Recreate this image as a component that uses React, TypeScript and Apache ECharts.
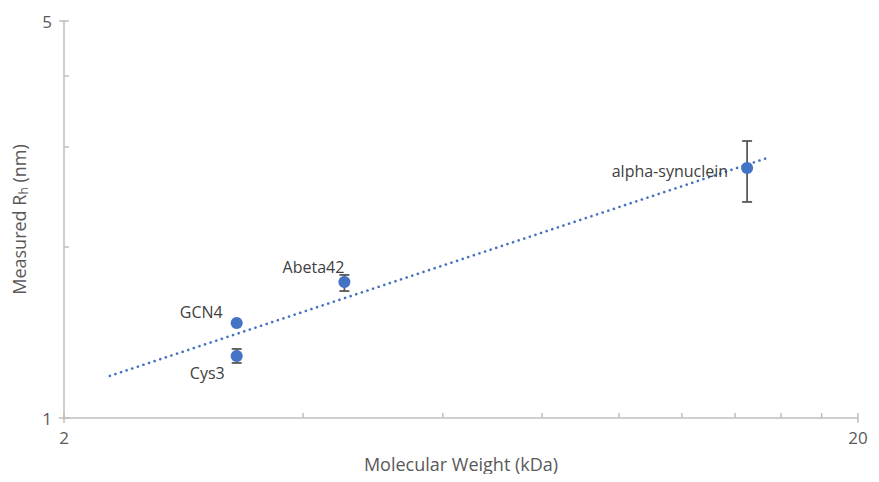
import React, { useEffect, useRef } from "react";
import * as echarts from "echarts";

const names = ["GCN4", "Cys3", "Abeta42", "alpha-synuclein"];
const molWeight = [3.3, 3.3, 4.51, 14.5];
const radius = [1.47, 1.286, 1.736, 2.755];
const errLow = [1.47, 1.25, 1.673, 2.401];
const errHigh = [1.47, 1.323, 1.786, 3.074];
const trendX = [2.284, 15.5];
const trendY = [1.186, 2.881];
const minorTicksX = [4, 6, 8, 10, 12, 14, 16, 18];
const minorTicksY = [2, 3, 4];
const xTickLabels = [2, 20];
const yTickLabels = [1, 5];

const labelOffsets: Record<string, [number, number]> = {
  GCN4: [-3, -11],
  Cys3: [-1, 17],
  Abeta42: [11, -15],
  "alpha-synuclein": [-8, 3],
};

const FONT = "'Open Sans', sans-serif";

export default function App() {
  const ref = useRef<HTMLDivElement>(null);
  useEffect(() => {
    if (!ref.current) return;
    const chart = echarts.init(ref.current, undefined, { renderer: "svg" });
    const axisColor = "#BFBFBF";
    const textColor = "#595959";
    const isIn = (v: number, arr: number[]) => arr.some((a) => Math.abs(a - v) < 1e-6);
    chart.setOption({
      animation: false,
      textStyle: { fontFamily: FONT },
      grid: { left: 64, right: 21, top: 21, bottom: 64, containLabel: false },
      xAxis: {
        type: "log",
        logBase: 10,
        min: 2,
        max: 20,
        name: "Molecular Weight (kDa)",
        nameLocation: "middle",
        nameGap: 37,
        nameTextStyle: { color: textColor, fontSize: 18, fontFamily: FONT },
        axisLine: { show: true, lineStyle: { color: axisColor, width: 1.5 } },
        axisTick: { show: false },
        splitLine: { show: false },
        axisLabel: {
          color: textColor,
          fontSize: 17,
          margin: 11,
          fontFamily: FONT,
          formatter: (v: number) => (isIn(v, xTickLabels) ? String(Math.round(v)) : ""),
        },
      },
      yAxis: {
        type: "log",
        logBase: 5,
        min: 1,
        max: 5,
        name: "Measured R{sub|h} (nm)",
        nameLocation: "middle",
        nameGap: 35,
        nameTextStyle: {
          color: textColor,
          fontSize: 18,
          fontFamily: FONT,
          rich: {
            sub: { fontSize: 12, color: textColor, verticalAlign: "bottom", padding: [8, 0, 0, 0], fontFamily: FONT },
          },
        },
        axisLine: { show: true, lineStyle: { color: axisColor, width: 1.5 } },
        axisTick: { show: false },
        splitLine: { show: false },
        axisLabel: {
          color: textColor,
          fontSize: 17,
          margin: 12,
          fontFamily: FONT,
          formatter: (v: number) => (isIn(v, yTickLabels) ? String(Math.round(v)) : ""),
        },
      },
      series: [
        {
          type: "custom",
          silent: true,
          z: 1,
          data: xTickLabels.map((v) => [v, 1]).concat(minorTicksX.map((v) => [v, 1])),
          renderItem: (params: any, api: any) => {
            const v = api.value(0);
            const p = api.coord([v, 1]);
            const major = isIn(v, xTickLabels);
            return {
              type: "line",
              shape: { x1: p[0], y1: p[1] - 5, x2: p[0], y2: p[1] + (major ? 5 : 0) },
              style: { stroke: axisColor, lineWidth: 1.5 },
            };
          },
        },
        {
          type: "custom",
          silent: true,
          z: 1,
          data: yTickLabels.map((v) => [2, v]).concat(minorTicksY.map((v) => [2, v])),
          renderItem: (params: any, api: any) => {
            const v = api.value(1);
            const p = api.coord([2, v]);
            const major = isIn(v, yTickLabels);
            return {
              type: "line",
              shape: { x1: p[0] - (major ? 5 : 0), y1: p[1], x2: p[0] + 5, y2: p[1] },
              style: { stroke: axisColor, lineWidth: 1.5 },
            };
          },
        },
        {
          type: "line",
          data: trendX.map((x, i) => [x, trendY[i]]),
          symbol: "none",
          z: 2,
          lineStyle: { color: "#4472C4", width: 2.6, type: [0.1, 5.8], cap: "round" },
        },
        {
          type: "custom",
          z: 3,
          data: molWeight.map((x, i) => [x, radius[i], errLow[i], errHigh[i]]),
          renderItem: (params: any, api: any) => {
            const x = api.value(0);
            const lo = api.coord([x, api.value(2)]);
            const hi = api.coord([x, api.value(3)]);
            if (Math.abs(lo[1] - hi[1]) < 1) return { type: "group", children: [] };
            const w = 5;
            const st = { stroke: "#595959", lineWidth: 1.8 };
            return {
              type: "group",
              children: [
                { type: "line", shape: { x1: lo[0], y1: lo[1], x2: hi[0], y2: hi[1] }, style: st },
                { type: "line", shape: { x1: lo[0] - w, y1: lo[1], x2: lo[0] + w, y2: lo[1] }, style: st },
                { type: "line", shape: { x1: hi[0] - w, y1: hi[1], x2: hi[0] + w, y2: hi[1] }, style: st },
              ],
            };
          },
        },
        {
          type: "scatter",
          z: 4,
          symbolSize: 12,
          itemStyle: { color: "#4472C4", opacity: 1 },
          data: molWeight.map((x, i) => ({
            value: [x, radius[i]],
            name: names[i],
            label: {
              show: true,
              position: "left",
              distance: 5,
              offset: labelOffsets[names[i]],
              formatter: names[i],
              color: "#404040",
              fontSize: 16,
              fontFamily: FONT,
            },
          })),
        },
      ],
    });
    return () => chart.dispose();
  }, []);
  return <div ref={ref} style={{ width: 879, height: 482, margin: -8 }} />;
}
